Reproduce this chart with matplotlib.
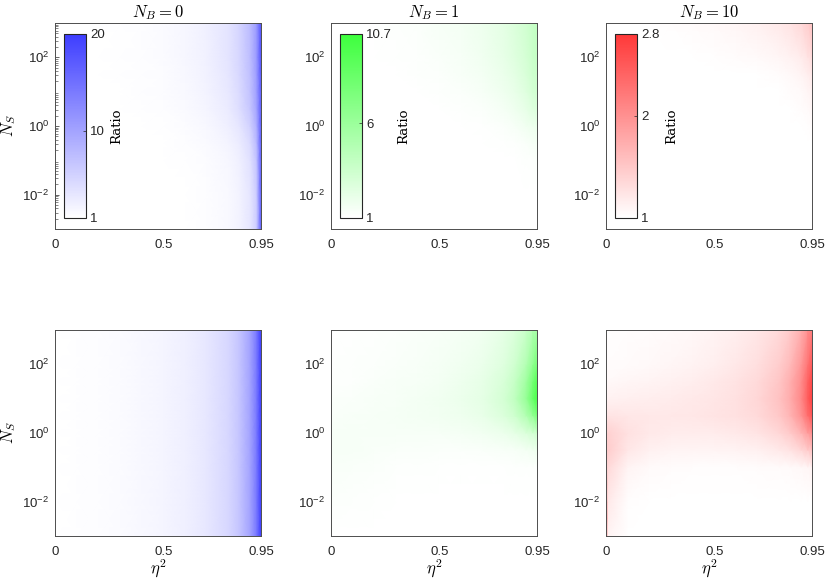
import numpy as np
import matplotlib
matplotlib.use("Agg")
import matplotlib.pyplot as plt
from matplotlib.colors import LinearSegmentedColormap
from matplotlib.ticker import LogLocator, NullFormatter

plt.rcParams['font.family'] = ['Liberation Sans', 'DejaVu Sans']
plt.rcParams['mathtext.fontset'] = 'cm'

# ---- data ----
eta2 = [0, 0.01, 0.1, 0.2, 0.3, 0.4, 0.5, 0.6, 0.7, 0.8, 0.85, 0.9, 0.93, 0.95]
n_s = [1e-3, 1e-2, 1e-1, 0.316, 1, 3.16, 10, 31.6, 100, 1000]
titles = ['$N_B = 0$', '$N_B = 1$', '$N_B = 10$']
cbar_ticks = [[1, 10, 20], [1, 6, 10.7], [1, 2, 2.8]]
cbar_ticklabels = [['1', '10', '20'], ['1', '6', '10.7'], ['1', '2', '2.8']]
x_ticks = [0, 0.5, 0.95]
x_ticklabels = ['0', '0.5', '0.95']
y_ticks = [1e-2, 1e0, 1e2]

# top row, N_B = 0
ratio_top_nb0 = [
    [1, 1, 1, 1, 1, 1, 1, 1.05, 1.2, 1.6, 2.2, 3.5, 6, 17],
    [1, 1, 1, 1, 1, 1, 1, 1.05, 1.2, 1.6, 2.2, 3.5, 6, 17],
    [1, 1, 1, 1, 1, 1, 1.02, 1.08, 1.3, 1.8, 2.5, 4, 7, 17],
    [1, 1, 1, 1, 1, 1.02, 1.05, 1.15, 1.45, 2.1, 2.9, 4.5, 8, 17],
    [1, 1, 1, 1, 1.02, 1.05, 1.1, 1.3, 1.7, 2.6, 3.5, 5.5, 9, 17],
    [1, 1, 1, 1.02, 1.05, 1.1, 1.2, 1.45, 2.0, 3.0, 4.2, 6.5, 10, 17],
    [1, 1, 1, 1.03, 1.07, 1.15, 1.3, 1.6, 2.2, 3.3, 4.6, 7, 10.5, 17],
    [1, 1, 1.01, 1.04, 1.09, 1.18, 1.35, 1.7, 2.3, 3.5, 4.8, 7.2, 10.8, 17.5],
    [1, 1, 1.01, 1.05, 1.1, 1.2, 1.4, 1.75, 2.4, 3.6, 5, 7.5, 11, 18],
    [1, 1, 1.02, 1.06, 1.12, 1.22, 1.42, 1.8, 2.5, 3.7, 5.1, 7.6, 11, 18],
]
# top row, N_B = 1
ratio_top_nb1 = [
    [1, 1, 1, 1, 1, 1, 1, 1, 1, 1, 1, 1, 1, 1],
    [1, 1, 1, 1, 1, 1, 1, 1, 1, 1, 1, 1, 1, 1.02],
    [1, 1, 1, 1, 1, 1, 1, 1, 1, 1, 1.02, 1.08, 1.15, 1.2],
    [1, 1, 1, 1, 1, 1, 1, 1, 1, 1.05, 1.15, 1.3, 1.45, 1.5],
    [1, 1, 1, 1, 1, 1, 1, 1, 1.05, 1.2, 1.4, 1.7, 1.9, 2.0],
    [1, 1, 1, 1, 1, 1, 1.02, 1.08, 1.2, 1.5, 1.8, 2.2, 2.6, 2.8],
    [1, 1, 1, 1, 1, 1.02, 1.08, 1.2, 1.4, 1.8, 2.1, 2.6, 3.1, 3.3],
    [1, 1, 1, 1, 1.02, 1.08, 1.18, 1.35, 1.6, 2.0, 2.4, 2.9, 3.4, 3.6],
    [1, 1, 1, 1.01, 1.06, 1.15, 1.28, 1.45, 1.75, 2.2, 2.6, 3.1, 3.6, 3.9],
    [1, 1, 1, 1.02, 1.12, 1.22, 1.38, 1.6, 1.9, 2.4, 2.8, 3.3, 3.8, 4.1],
]
# top row, N_B = 10
ratio_top_nb10 = [
    [1, 1, 1, 1, 1, 1, 1, 1, 1, 1, 1, 1, 1, 1],
    [1, 1, 1, 1, 1, 1, 1, 1, 1, 1, 1, 1, 1, 1],
    [1, 1, 1, 1, 1, 1, 1, 1, 1, 1, 1, 1, 1, 1],
    [1, 1, 1, 1, 1, 1, 1, 1, 1, 1, 1, 1, 1, 1],
    [1, 1, 1, 1, 1, 1, 1, 1, 1, 1, 1, 1, 1.01, 1.03],
    [1, 1, 1, 1, 1, 1, 1, 1, 1, 1, 1, 1.03, 1.05, 1.08],
    [1, 1, 1, 1, 1, 1, 1, 1, 1, 1, 1.03, 1.05, 1.08, 1.12],
    [1, 1, 1, 1, 1, 1, 1, 1, 1, 1.03, 1.06, 1.1, 1.15, 1.2],
    [1, 1, 1, 1, 1, 1, 1.01, 1.03, 1.05, 1.08, 1.12, 1.18, 1.25, 1.32],
    [1, 1, 1, 1, 1.02, 1.04, 1.06, 1.09, 1.13, 1.2, 1.26, 1.35, 1.45, 1.55],
]
# bottom row, N_B = 0 (same along N_S)
ratio_bottom_nb0_row = [1, 1.01, 1.11, 1.25, 1.43, 1.67, 2, 2.5, 3.33, 5, 6.67, 10, 14.3, 20]
# bottom row, N_B = 1
ratio_bottom_nb1 = [
    [1.05, 1.03, 1, 1, 1, 1, 1, 1, 1, 1, 1, 1, 1, 1],
    [1.2, 1.18, 1.1, 1.04, 1.02, 1, 1, 1, 1, 1, 1, 1, 1, 1],
    [1.35, 1.33, 1.28, 1.2, 1.12, 1.08, 1.06, 1.05, 1.05, 1.06, 1.08, 1.1, 1.12, 1.15],
    [1.4, 1.4, 1.38, 1.33, 1.28, 1.24, 1.22, 1.22, 1.25, 1.35, 1.45, 1.6, 1.75, 1.85],
    [1.4, 1.4, 1.4, 1.4, 1.4, 1.42, 1.45, 1.52, 1.65, 1.95, 2.3, 2.8, 3.2, 3.5],
    [1.3, 1.3, 1.35, 1.4, 1.48, 1.55, 1.65, 1.8, 2.1, 2.8, 3.5, 4.8, 6.2, 7.5],
    [1.2, 1.2, 1.25, 1.35, 1.45, 1.55, 1.7, 1.95, 2.3, 3.2, 4.2, 6.2, 8.5, 10],
    [1.1, 1.1, 1.15, 1.25, 1.35, 1.45, 1.6, 1.85, 2.2, 3.0, 3.9, 5.7, 7.8, 9.5],
    [1.05, 1.05, 1.1, 1.17, 1.25, 1.35, 1.5, 1.7, 2.0, 2.7, 3.4, 4.8, 6.4, 7.8],
    [1.02, 1.02, 1.05, 1.1, 1.17, 1.25, 1.35, 1.5, 1.75, 2.3, 2.8, 3.7, 4.8, 5.6],
]
# bottom row, N_B = 10
ratio_bottom_nb10 = [
    [2.8, 1.1, 1, 1, 1, 1, 1, 1, 1, 1, 1, 1, 1, 1],
    [2.4, 1.2, 1.02, 1, 1, 1, 1, 1, 1, 1, 1, 1, 1, 1],
    [1.5, 1.35, 1.1, 1.05, 1.03, 1.02, 1.02, 1.02, 1.03, 1.04, 1.05, 1.07, 1.09, 1.11],
    [1.5, 1.45, 1.22, 1.13, 1.1, 1.1, 1.1, 1.11, 1.13, 1.2, 1.26, 1.36, 1.46, 1.53],
    [1.45, 1.42, 1.28, 1.2, 1.18, 1.18, 1.18, 1.2, 1.24, 1.36, 1.48, 1.68, 1.88, 2.0],
    [1.25, 1.25, 1.22, 1.21, 1.21, 1.22, 1.24, 1.28, 1.34, 1.5, 1.68, 1.98, 2.3, 2.5],
    [1.12, 1.12, 1.14, 1.16, 1.18, 1.2, 1.23, 1.28, 1.36, 1.55, 1.75, 2.08, 2.45, 2.7],
    [1.06, 1.06, 1.08, 1.1, 1.13, 1.16, 1.2, 1.26, 1.34, 1.52, 1.72, 2.03, 2.4, 2.65],
    [1.03, 1.03, 1.04, 1.06, 1.08, 1.11, 1.15, 1.21, 1.29, 1.45, 1.62, 1.93, 2.25, 2.5],
    [1.01, 1.01, 1.02, 1.03, 1.05, 1.07, 1.1, 1.15, 1.22, 1.35, 1.48, 1.73, 2.0, 2.2],
]

# ---- figure ----
W, H = 830, 582
fig = plt.figure(figsize=(W / 100, H / 100), dpi=100)

max_colors = [(0.24, 0.24, 1.0), (0.24, 1.0, 0.24), (1.0, 0.22, 0.22)]
cmaps = [LinearSegmentedColormap.from_list(f'c{i}', [(1, 1, 1), c]) for i, c in enumerate(max_colors)]

top_data = [ratio_top_nb0, ratio_top_nb1, ratio_top_nb10]
bottom_data = [np.tile(ratio_bottom_nb0_row, (len(n_s), 1)), ratio_bottom_nb1, ratio_bottom_nb10]

col_left = [55, 331, 606]
row_top = [23, 330]
aw, ah = 206, 206

X, Y = np.meshgrid(eta2, n_s)
spine_col = '#4d4d4d'
tick_fs = 9.5

for r in range(2):
    for c in range(3):
        left = col_left[c] / W
        bottom = 1 - (row_top[r] + ah) / H
        ax = fig.add_axes([left, bottom, aw / W, ah / H])
        data = np.array(top_data[c] if r == 0 else bottom_data[c], dtype=float)
        vmin, vmax = cbar_ticks[c][0], cbar_ticks[c][-1]
        pm = ax.pcolormesh(X, Y, data, shading='gouraud', cmap=cmaps[c], vmin=vmin, vmax=vmax)
        ax.set_yscale('log')
        ax.set_xlim(0, 0.95)
        ax.set_ylim(1e-3, 1e3)
        ax.set_xticks(x_ticks)
        ax.set_xticklabels(x_ticklabels)
        ax.set_yticks(y_ticks)
        ax.yaxis.set_minor_locator(LogLocator(base=10, subs=np.arange(2, 10), numticks=20))
        ax.yaxis.set_minor_formatter(NullFormatter())
        if r == 0 and c == 0:
            ax.tick_params(axis='y', which='minor', direction='in', length=2, width=0.5, color='#555555')
            ax.tick_params(axis='y', which='major', direction='in', length=3, width=0.5, color='#555555')
        else:
            ax.tick_params(axis='y', which='both', length=0)
        ax.tick_params(axis='x', which='both', length=0)
        ax.tick_params(labelsize=tick_fs, colors='#262626')
        ax.tick_params(axis='x', pad=7)
        ax.tick_params(axis='y', pad=4)
        for s in ax.spines.values():
            s.set_color(spine_col)
            s.set_linewidth(0.7)
        if c == 0:
            ax.set_ylabel('$N_S$', fontsize=12, labelpad=3)
        if r == 1:
            ax.set_xlabel(r'$\eta^2$', fontsize=12, labelpad=0)
        if r == 0:
            ax.set_title(titles[c], fontsize=12, pad=4)
            cax = ax.inset_axes([0.044, 0.054, 0.107, 0.893])
            cb = fig.colorbar(pm, cax=cax, orientation='vertical')
            cb.set_ticks(cbar_ticks[c])
            cb.set_ticklabels(cbar_ticklabels[c])
            cb.ax.tick_params(labelsize=tick_fs, direction='in', length=2, width=0.5, pad=3, colors='#262626')
            cb.outline.set_edgecolor('#262626')
            cb.outline.set_linewidth(0.8)
            cb.set_label('Ratio', fontsize=9.5, labelpad=4, family=['DejaVu Serif'])

fig.savefig('out.png', dpi=100, facecolor='white')
